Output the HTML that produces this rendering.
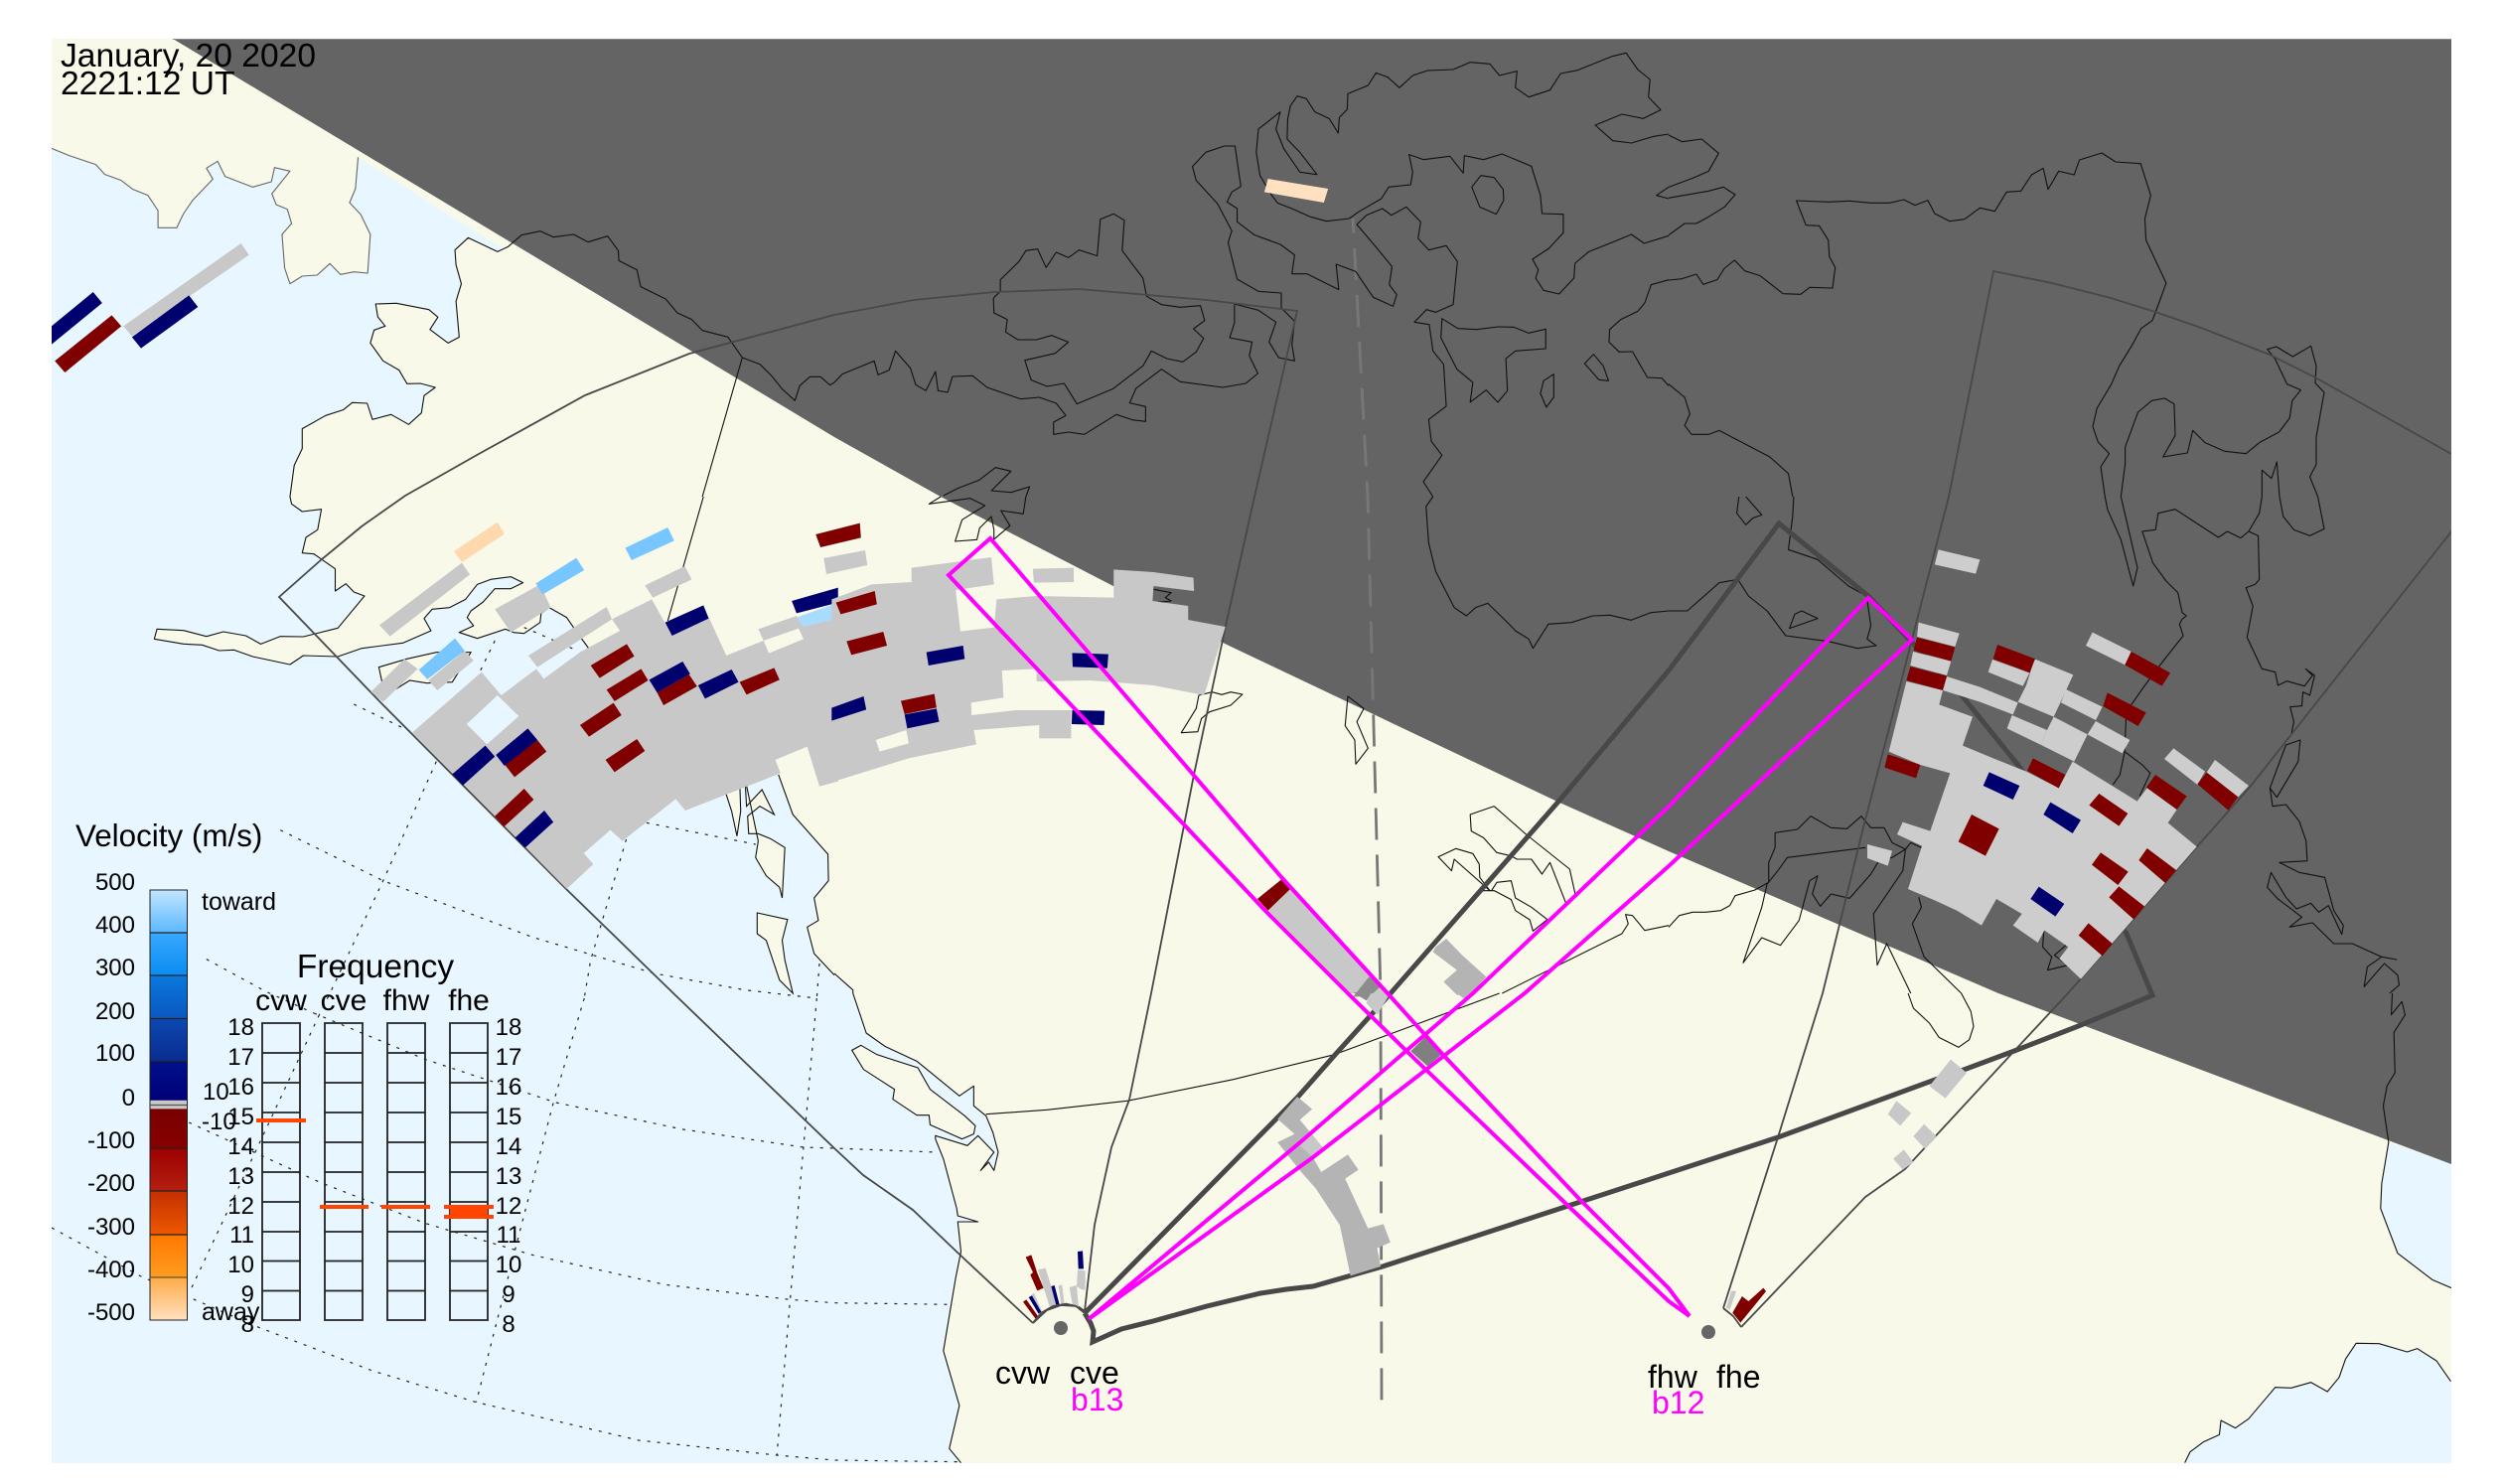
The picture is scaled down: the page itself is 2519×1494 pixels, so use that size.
<!DOCTYPE html>
<html><head><meta charset="utf-8"><style>
html,body{margin:0;padding:0;background:#fff}
svg{display:block}
polyline,polygon,line,rect,circle,path{vector-effect:non-scaling-stroke}
.c{fill:none;stroke:#111;stroke-width:1.1;stroke-linejoin:round}
.o{fill:#e8f6ff;stroke:none}
.l{fill:#f9f9ea;stroke:#111;stroke-width:1.1}
.g{fill:none;stroke:#222;stroke-width:1.2;stroke-dasharray:3 7}
.g1{fill:#c8c8c8}.g2{fill:#cdcdcd}.g3{fill:#b4b4b4}
.r{fill:#800000}.n{fill:#00006e}.b{fill:#77c6ff}.p{fill:#ffd9ae}
text{font-family:"Liberation Sans",sans-serif;fill:#000}
</style></head><body>
<svg width="2519" height="1494" viewBox="0 0 2519 1494" xmlns="http://www.w3.org/2000/svg">
<defs>
<clipPath id="pl"><rect x="52" y="39" width="2416" height="1434"/></clipPath>
<linearGradient id="cb" gradientUnits="userSpaceOnUse" x1="0" y1="896" x2="0" y2="1329">
<stop offset="0" stop-color="#c2e6ff"/><stop offset=".099" stop-color="#5cb8ff"/>
<stop offset=".10" stop-color="#38a8ff"/><stop offset=".199" stop-color="#0a8cf0"/>
<stop offset=".20" stop-color="#0a78dc"/><stop offset=".298" stop-color="#0a58c0"/>
<stop offset=".30" stop-color="#0c48b0"/><stop offset=".397" stop-color="#0a2c90"/>
<stop offset=".40" stop-color="#00108a"/><stop offset=".488" stop-color="#000078"/>
<stop offset=".49" stop-color="#c8c8c8"/><stop offset=".508" stop-color="#c8c8c8"/>
<stop offset=".51" stop-color="#780000"/><stop offset=".60" stop-color="#880000"/>
<stop offset=".602" stop-color="#9c0000"/><stop offset=".70" stop-color="#b42010"/>
<stop offset=".702" stop-color="#c43000"/><stop offset=".80" stop-color="#ec5800"/>
<stop offset=".802" stop-color="#ff7800"/><stop offset=".90" stop-color="#ff9c20"/>
<stop offset=".902" stop-color="#ffac48"/><stop offset="1" stop-color="#ffe0c0"/>
</linearGradient>
</defs>
<rect width="2519" height="1494" fill="#fff"/>
<g clip-path="url(#pl)">
<rect x="52" y="39" width="2416" height="1434" fill="#f9f9ea"/>

<!-- ocean -->
<g transform="translate(0,0) scale(.535714,.33333)">
<polygon class="o" points="90,444 97,448 130,470 180,497 197,527 227,544 250,572 278,590 297,636 297,688 332,688 345,645 362,605 400,541 388,508 409,487 423,533 475,565 510,549 516,506 545,517 511,585 519,618 540,632 548,675 530,708 535,810 545,857 568,834 596,831 620,796 640,829 665,821 691,825 696,708 678,648 657,612 668,570 673,475 945,752 935,760 880,718 855,755 857,800 867,857 857,910 863,1018 842,1036 808,995 823,958 806,935 745,916 706,918 710,957 724,985 703,997 696,1036 720,1090 750,1118 765,1159 790,1158 818,1170 797,1195 792,1247 768,1282 735,1252 700,1267 690,1218 662,1216 645,1238 612,1255 568,1295 568,1355 553,1405 545,1505 90,1505"/>
</g>
<g transform="translate(0,500) scale(.535714,.33333)">
<polygon class="o" points="545,-5 548,22 568,45 604,38 597,100 575,123 568,170 590,173 630,218 630,285 650,263 665,288 685,300 635,397 570,423 527,422 490,445 462,420 420,408 388,422 345,404 295,400 290,430 345,445 380,448 412,465 440,463 475,483 545,507 570,480 635,483 680,458 757,442 810,405 797,368 812,340 845,335 875,310 897,265 922,250 960,242 983,260 960,278 930,278 908,318 885,345 878,365 890,390 863,410 897,428 950,400 965,410 985,413 1015,380 1017,352 1032,335 1065,365 1080,400 1108,462 1280,700 1463,840 1490,960 1556,1080 1557,1160 1530,1212 1538,1280 1517,1300 1530,1380 1568,1445 1572,1505 90,1505 90,-5"/>
</g>
<g transform="translate(0,1000) scale(.535714,.33333)"><rect class="o" x="90" y="-5" width="1485" height="1430"/></g>
<g transform="translate(840,500) scale(.535714,.33333)"><polygon class="o" points="-5,1440 0,1440 35,1490 38,1505 -5,1505"/></g>
<g transform="translate(840,1000) scale(.535714,.33333)">
<polygon class="o" points="-5,-5 35,-5 60,120 95,160 155,205 235,310 262,280 262,340 285,370 298,420 308,480 300,535 290,510 275,535 300,480 270,430 250,460 190,430 190,440 205,500 230,650 232,672 270,690 232,690 238,780 228,860 205,1080 235,1245 216,1375 238,1425 -5,1425"/>
</g>
<g transform="translate(1680,1000) scale(.535714,.33333)">
<polygon class="o" points="1351,450 1340,575 1338,650 1370,785 1435,865 1475,892 1475,517"/>
<polygon class="o" points="970,1425 980,1385 1005,1355 1035,1333 1038,1290 1065,1313 1090,1285 1140,1190 1170,1192 1207,1175 1238,1203 1260,1160 1272,1105 1292,1057 1335,1058 1388,1083 1407,1073 1443,1110 1470,1172 1475,1425"/>
</g>

<!-- graticule -->
<g transform="translate(0,500) scale(.535714,.33333)">
<polyline class="g" points="665,627 775,712"/><polyline class="g" points="1215,985 1420,1050"/><polyline class="g" points="985,395 1085,465"/>
<polyline class="g" points="527,1007 720,1160 1000,1330 1230,1440 1400,1490 1535,1515"/>
<polyline class="g" points="388,1397 500,1495 590,1560"/>
<polyline class="g" points="930,435 900,535"/>
<polyline class="g" points="820,800 720,1160 620,1500 600,1565"/>
<polyline class="g" points="1177,1035 1110,1400 1098,1515"/>
<polyline class="g" points="1540,1410 1535,1515"/>
</g>
<g transform="translate(0,1000) scale(.535714,.33333)">
<polyline class="g" points="590,60 800,200 1045,330 1280,410 1510,465 1568,468 1760,480"/>
<polyline class="g" points="355,390 600,570 800,695 1000,790 1250,880 1485,925 1568,935 1793,940"/>
<polyline class="g" points="97,708 265,855 480,1005 700,1140 895,1235 1200,1350 1460,1395 1568,1410 1803,1415"/>
<polyline class="g" points="600,65 500,410 360,890"/>
<polyline class="g" points="1098,15 1040,330 980,700 895,1235"/>
<polyline class="g" points="1535,15 1510,465 1485,925 1460,1395"/>
</g>

<!-- islands -->
<g transform="translate(0,500) scale(.535714,.33333)">
<polygon class="l" points="712,515 765,490 820,470 885,470 850,560 802,563 770,555 745,580 718,560"/>
<polygon class="l" points="1360,875 1375,950 1385,1025 1392,950 1390,850"/>
<polygon class="l" points="1400,850 1403,935 1432,885 1455,960 1428,935 1405,965 1407,1018 1425,1018 1448,1033 1475,1060 1470,1212 1465,1180 1440,1145 1420,1090 1425,1040"/>
<polygon class="l" points="1423,1257 1480,1277 1470,1340 1475,1400 1490,1500 1465,1460 1440,1340 1423,1320"/>
</g>
<g transform="translate(840,1000) scale(.535714,.33333)">
<polygon class="l" points="50,157 33,172 55,230 113,290 110,320 155,368 178,368 180,397 240,440 262,425 265,400 245,370 180,290 157,225 80,185"/>
</g>

<!-- shadow -->
<polygon points="174,39 840,440 947,500 1231,647 1568,807 1680,857 2012,1000 2468,1172 2468,39" fill="#646464"/>
<line x1="174" y1="39.5" x2="2468" y2="39.5" stroke="#888" stroke-width="1"/>

<!-- dashed meridian -->
<polyline points="1362,220 1377,500 1390,1000 1391,1413" fill="none" stroke="#777" stroke-width="2.8" stroke-dasharray="32 15" stroke-dashoffset="17"/>

<!-- coast tile 1 -->
<g transform="translate(0,0) scale(.535714,.33333)">
<polyline class="c" style="stroke:#666" points="97,448 130,470 180,497 197,527 227,544 250,572 278,590 297,636 297,688 332,688 345,645 362,605 400,541 388,508 409,487 423,533 475,565 510,549 516,506 545,517 511,585 519,618 540,632 548,675 530,708 535,810 545,857 568,834 596,831 620,796 640,829 665,821 691,825 696,708 678,648 657,612 668,570 673,475"/>
<polyline class="c" points="1568,1155 1560,1163 1542,1138 1522,1138 1503,1165 1494,1210 1470,1175 1450,1135 1428,1100 1395,1080 1368,1018 1320,998 1300,965 1273,945 1251,903 1204,866 1197,815 1163,787 1162,757 1142,713 1105,731 1078,708 1040,716 1015,698 980,710 955,745 935,760 880,718 855,755 857,800 867,857 857,910 863,1018 842,1036 808,995 823,958 806,935 745,916 706,918 710,957 724,985 703,997 696,1036 720,1090 750,1118 765,1159 790,1158 818,1170 797,1195 792,1247 768,1282 735,1252 700,1267 690,1218 662,1216 645,1238 612,1255 568,1295 568,1355 553,1405 545,1500"/>
<polyline class="c" points="1395,1080 1320,1500"/>
</g>
<!-- coast tile 2 -->
<g transform="translate(840,0) scale(.535714,.33333)">
<polyline class="c" points="0,1155 15,1130 75,1090 82,1132 103,1118 115,1060 143,1112 153,1162 172,1180 190,1122 195,1180 213,1185 222,1137 260,1135 287,1170 350,1205 385,1200 417,1218 435,1255 412,1275 412,1312 440,1305 470,1312 530,1252 560,1268 585,1273 585,1228 555,1217 567,1173 615,1115 650,1153 730,1170 773,1158 796,1128 780,1075 785,1033 743,1020 752,975 752,918 797,937 830,973 817,1033 835,1080 865,1090 860,1040 865,970 840,930 840,885 797,880 757,843 740,733 747,697 720,615 680,545 673,503 698,460 733,441 753,441 764,563 747,580 738,610 757,630 757,670 790,710 838,738 865,770 860,827 888,827 948,875 943,798 980,820 1005,880 1013,898 1050,925 1057,890 1043,860 1048,805 1020,750 982,678 1000,650 1030,630 1047,650 1075,625 1102,670 1097,720 1117,755 1150,742 1171,790 1163,920 1130,943 1113,935 1090,973 1118,980 1125,1060 1145,1100 1150,1227 1117,1267 1122,1333 1142,1375 1107,1455 1125,1500"/>
<polyline class="c" points="299,900 300,945 325,965 322,1003 345,1026 380,1026 408,1013 440,1033 415,1067 358,1088 370,1148 400,1167 432,1158 456,1220 523,1175 580,1105 596,1060 625,1083 655,1093 680,1063 694,1022 675,993 696,968 688,923 650,928 615,920 587,895 580,840 541,757 545,665 525,646 500,662 494,773 460,755 440,778 417,762 398,808 382,752 360,757 347,790 312,845 312,880 299,900"/>
<polyline class="c" points="968,660 925,668 895,655 860,630 833,613 820,585 800,530 793,460 797,390 838,338 830,390 845,450 875,520 907,527 875,460 851,420 852,360 857,320 870,290 887,298 903,338 930,358 947,402 949,355 964,330 965,283 1003,258 1018,220 1040,233 1062,265 1087,228 1115,213 1163,210 1195,188 1232,193 1250,228 1283,215 1280,265 1305,293 1345,272 1365,222 1397,212 1462,170 1488,160 1510,210 1533,240 1530,293 1553,332 1520,358 1480,345 1430,378 1463,425 1498,432 1540,412 1568,405"/>
<polyline class="c" points="968,660 985,640 1028,600 1042,565 1083,558 1087,520 1080,467 1107,482 1157,472 1182,523 1184,470 1220,482 1255,465 1310,502 1327,590 1330,645 1370,647 1370,703 1343,750 1312,783 1323,815 1318,840 1333,877 1362,888 1390,840 1392,795 1418,760 1462,732 1498,708 1522,735 1568,712"/>
<polygon class="c" points="1198,565 1215,530 1240,536 1257,572 1258,605 1244,647 1213,625"/>
<polygon class="c" points="1427,1070 1445,1105 1455,1150 1437,1147 1410,1098"/>
<polygon class="c" points="1352,1130 1352,1200 1338,1230 1327,1188 1333,1150"/>
<polyline class="c" points="1568,565 1545,590 1568,600"/>
<polygon class="c" points="1142,962 1172,992 1207,995 1247,987 1277,988 1305,1006 1337,994 1337,1053 1280,1060 1262,1083 1265,1180 1247,1215 1225,1178 1195,1215 1200,1155 1170,1115 1140,1020"/>
<polyline class="c" points="1568,845 1535,860 1523,915 1510,940 1478,965 1457,995 1456,1033 1475,1063 1500,1062 1528,1140 1555,1142 1568,1165"/>
<polyline class="c" points="205,1497 232,1475 272,1450 303,1412 332,1423 295,1482 332,1487 367,1470 360,1500"/>
</g>
<!-- coast tile 3 -->
<g transform="translate(1680,0) scale(.535714,.33333)">
<polyline class="c" points="0,408 25,428 62,420 94,463 75,517 45,538 0,565"/>
<polyline class="c" points="0,598 75,577 103,565 125,588 105,625 75,655 52,675 30,675 0,710"/>
<polyline class="c" points="820,1500 812,1410 828,1370 807,1335 797,1288 805,1233 832,1160 847,1105 870,1045 888,992 909,968 918,930 935,855 897,725 895,660 906,590 887,494 840,489 814,462 772,483 762,528 733,517 713,572 704,508 682,528 662,577 635,580 613,638 585,628 556,662 528,668 500,645 487,605 463,620 442,603 415,613 380,613 340,607 300,610 240,606 258,680 283,682 300,725 302,775 313,808 308,870 265,868 248,889 215,887 172,833 143,818 124,786 105,810 91,845 65,859 52,828 25,842 0,846"/>
<polyline class="c" points="0,1160 30,1200 40,1250 30,1285 43,1312 75,1312 95,1300 190,1380 225,1430 233,1500"/>
<polyline class="c" points="850,1500 858,1400 858,1350 882,1245 908,1210 932,1203 950,1220 952,1315 929,1380 975,1368 985,1300 1008,1337 1045,1363 1085,1370 1110,1337 1147,1305 1167,1263 1172,1210 1188,1178 1162,1160 1140,1085 1125,1055 1142,1047 1173,1077 1207,1045 1217,1105 1215,1157 1232,1185 1217,1320 1217,1403 1205,1440 1220,1500"/>
<polyline class="c" points="1115,1500 1115,1420 1133,1445 1143,1395 1148,1500"/>
</g>
<!-- coast tile 4 -->
<g transform="translate(0,500) scale(.535714,.33333)">
<polyline class="c" points="545,0 548,22 568,45 604,38 597,100 575,123 568,170 590,173 630,218 630,285 650,263 665,288 685,300 635,397 570,423 527,422 490,445 462,420 420,408 388,422 345,404 295,400 290,430 345,445 380,448 412,465 440,463 475,483 545,507 570,480 635,483 680,458 757,442 810,405 797,368 812,340 845,335 875,310 897,265 922,250 960,242 983,260 960,278 930,278 908,318 885,345 878,365 890,390 863,410 897,428 950,400 965,410 985,413 1015,380 1017,352 1032,335 1065,365 1080,400 1108,462"/>
<polyline class="c" points="1322,0 1255,375"/>
<polyline class="c" points="1463,840 1490,960 1556,1080 1557,1160 1530,1212 1538,1280 1517,1300 1530,1380 1568,1445"/>
</g>
<!-- coast tile 5 -->
<g transform="translate(840,500) scale(.535714,.33333)">
<polyline class="c" points="0,1440 35,1490 35,1500"/>
<polyline class="c" points="1125,0 1112,30 1117,140 1130,225 1165,335 1188,360 1205,335 1228,322 1265,380 1280,405 1305,430 1313,458 1342,385 1385,380 1425,360 1458,358 1497,373 1535,350 1568,345"/>
<polyline class="c" points="200,0 178,22 255,5 283,27 240,70 227,135 268,130 273,95 295,60 300,100 300,130"/>
<polyline class="c" points="360,0 355,52 313,42 330,88 297,133"/>
<polyline class="c" points="600,280 633,290 622,305 633,315 600,320"/>
<polygon class="c" points="710,590 728,598 745,590 767,597 745,630 705,650 690,670 683,710 652,713 680,640 685,600"/>
<polygon class="c" points="965,603 995,640 982,680 1003,760 980,808 978,735 960,692"/>
<polyline class="c" points="1240,935 1300,1020 1382,1125 1393,1205"/>
<polyline class="c" points="1240,935 1195,960 1197,1010 1220,1030 1245,1075 1272,1085 1283,1095 1310,1095 1330,1140 1345,1105 1375,1228"/>
<polygon class="c" points="1135,1088 1168,1063 1200,1078 1212,1110 1213,1150 1232,1190 1165,1095 1160,1130"/>
<polyline class="c" points="1210,1190 1240,1190 1272,1217 1280,1250 1307,1278 1313,1312 1340,1277 1310,1240 1280,1212 1272,1160 1245,1165 1235,1190"/>
<polyline class="c" points="1255,1500 1480,1320 1492,1290 1487,1262 1500,1265 1523,1310 1568,1295"/>
</g>
<!-- coast tile 6 -->
<g transform="translate(1680,500) scale(.535714,.33333)">
<polyline class="c" points="820,0 825,40 850,130 873,270 881,215 850,0"/>
<polyline class="c" points="1115,0 1110,50 1090,105 1108,118 1110,250 1102,265 1085,275 1098,330 1087,425 1115,520 1140,530 1145,570 1162,557 1195,572 1210,540 1197,520 1214,540 1205,600 1192,590 1190,632 1168,635 1175,680 1170,720"/>
<polyline class="c" points="1148,0 1155,60 1175,100 1205,118 1232,97 1220,0"/>
<polyline class="c" points="1090,105 1075,125 1050,105 1033,123 952,38 920,50 915,100 890,105 910,200 935,255 957,290 965,350 973,360 965,370 960,385 967,420 930,495 895,570 860,650 857,770 890,810 905,835 885,905"/>
<polyline class="c" points="857,770 848,840 835,870"/>
<polygon class="c" points="1187,735 1160,750 1130,880 1143,908 1183,800"/>
<polyline class="c" points="1130,880 1135,935 1160,930 1185,980 1198,1040 1200,1100 1148,1105 1185,1135 1233,1150 1250,1250 1268,1295 1265,1322 1240,1235 1222,1255 1207,1228 1180,1245 1160,1210 1132,1135 1125,1180 1145,1215 1190,1270 1167,1300 1210,1287 1250,1350 1285,1350 1340,1390 1368,1398 1340,1390 1313,1420 1307,1480 1345,1410 1370,1445 1373,1475 1355,1500"/>
<polyline class="c" points="132,0 128,50 145,85 158,65 175,55 145,0"/>
<polyline class="c" points="235,0 233,60 225,160 280,190 338,270 372,300 380,390 373,430 390,450 355,458 300,437 220,420 185,345 150,300 130,250 95,260 35,345 0,345"/>
<polygon class="c" points="250,345 280,368 227,398 237,355"/>
<polyline class="c" points="267,965 305,1000 335,1003 362,965 380,1000 405,1000 420,1045 445,1065 420,1090"/>
<polyline class="c" points="200,1015 242,1005 267,965"/>
<polyline class="c" points="200,1015 200,1060 188,1105 188,1165 162,1188 125,1205 115,1235 98,1250 70,1255 45,1255 20,1265 0,1300"/>
<polyline class="c" points="370,1060 223,1090 205,1130 185,1170 175,1240 140,1408 175,1332 210,1355 245,1280 265,1160 280,1145 270,1200 285,1237 305,1200 340,1213 380,1140 395,1100 420,1090"/>
<polyline class="c" points="475,1060 455,1045 445,1065 440,1130 385,1260 392,1415 410,1350 455,1500"/>
<polyline class="c" points="470,1210 475,1240 458,1290 480,1390 550,1500"/>
<polyline class="c" points="705,1310 703,1360 720,1390 712,1430 750,1415 725,1385 750,1350"/>
</g>
<!-- coast tile 8 -->
<g transform="translate(840,1000) scale(.535714,.33333)">
<polyline class="c" points="35,0 60,120 95,160 155,205 235,310 262,280 262,340 285,370 298,420 308,480 300,535 290,510 275,535 300,480 270,430 250,460 190,430 190,440 205,500 230,650 232,672 270,690 232,690 238,780 228,860 205,1080 235,1245 216,1375 238,1418"/>
<polyline class="c" points="285,365 400,352 550,325 750,260 940,185 1100,90 1250,0"/>
</g>
<!-- coast tile 9 -->
<g transform="translate(1680,1000) scale(.535714,.33333)">
<polyline class="c" points="450,0 460,45 490,90 508,133 545,163 565,140 573,100 568,55 550,0"/>
<polyline class="c" points="1360,0 1358,65 1378,25 1384,65 1363,118 1365,240 1350,280 1343,340 1353,450 1340,575 1338,650 1370,785 1435,865 1471,890"/>
<polyline class="c" points="970,1418 980,1385 1005,1355 1035,1333 1038,1290 1065,1313 1090,1285 1140,1190 1170,1192 1207,1175 1238,1203 1260,1160 1272,1105 1292,1057 1335,1058 1388,1083 1407,1073 1443,1110 1470,1172"/>
</g>

<!-- FOVs thin -->
<g fill="none" stroke="#484848" stroke-width="1.8" stroke-linejoin="miter">
<polyline points="1040,1332 963,1260 919,1218 869,1183 840,1156 678,1000 570,895 383,707 281,601 324,563 364,530 408,499 482,457 589,398 694,356 840,317 920,302 1001,294 1086,291 1215,302 1306,313 1263,500 1234,630 1202,780 1159,1000 1137,1107 1119,1155 1102,1233 1092,1320"/>
<polyline points="1735,1317 1790,1145 1835,1000 1876,833 1902,733 1962,500 2007,273 2066,285 2125,300 2170,314 2216,330 2285,357 2331,380 2468,457"/>
<polyline points="2480,520 2267,790 2082,1000 2028,1058 1918,1177 1878,1205 1753,1336"/>
<polyline points="1735,1317 1745,1325 1753,1336"/>
<polyline points="1040,1332 1054,1319 1068,1314 1085,1315 1092,1320"/>
</g>
<!-- cve thick -->
<polyline points="1092,1322 1306,1105 1344,1062 1400,1000 1569,807 1680,675 1750,582 1791,527 1881,600 1975,700 2034,773 2141,940 2167,1002 2095,1032 2028,1058 1977,1077 1948,1087 1790,1145 1680,1181 1392,1275 1322,1295 1295,1298 1269,1302 1215,1315 1161,1330 1129,1338 1100,1351 1101,1340 1098,1332 1092,1322" fill="none" stroke="#484848" stroke-width="5" stroke-linejoin="miter"/>

<!-- cells: tile 1 -->
<g transform="translate(0,0) scale(.535714,.33333)">
<polygon class="g1" points="232,985 453,735 468,770 248,1015"/>
<polygon class="n" points="248,1018 355,892 372,927 265,1052"/>
<polygon class="n" points="97,985 175,882 192,915 97,1040"/>
<polygon class="r" points="103,1090 210,952 228,985 122,1125"/>
</g>
<!-- peach tile 2 -->
<g transform="translate(840,0) scale(.535714,.33333)">
<polygon points="815,540 928,570 920,612 808,580" fill="#ffe0c0"/>
</g>
<!-- cells: tile 4 -->
<g transform="translate(0,500) scale(.535714,.33333)">
<polygon class="g1" points="775,712 905,530 942,600 1008,520 1022,550 1090,470 1165,405 1150,370 1225,310 1263,420 1333,368 1365,480 1435,435 1445,473 1510,430 1500,395 1575,355 1575,860 1540,875 1517,755 1457,795 1467,835 1288,948 1270,913 1170,1040 1147,1007 1097,1077 1115,1110 1065,1185"/>
<polygon points="877,687 935,600 975,663 915,748" fill="#e8f6ff"/>
<polygon class="g1" points="993,480 1140,333 1150,370 1010,515"/>
<polygon class="g1" points="1425,400 1497,360 1510,393 1435,435"/>
<polygon class="g1" points="930,340 1015,265 1035,335 960,410"/>
<polygon class="g1" points="1212,268 1287,210 1300,250 1227,305"/>
<polygon class="g1" points="713,388 868,200 883,235 733,422"/>
<polygon class="p" points="853,165 935,77 948,113 868,198"/>
<polygon class="b" points="1007,262 1083,185 1098,222 1020,295"/>
<polygon class="b" points="1175,155 1255,93 1267,133 1187,192"/>
<polygon class="g1" points="805,555 873,465 890,495 822,585"/>
<polygon class="b" points="787,523 855,428 873,465 803,552"/>
<polygon class="g1" points="697,590 760,490 785,520 720,620"/>
<polygon class="r" points="1110,510 1178,445 1192,482 1127,548"/>
<polygon class="r" points="1140,583 1205,520 1218,555 1155,618"/>
<polygon class="r" points="1090,690 1153,623 1168,660 1107,725"/>
<polygon class="r" points="1138,795 1197,732 1212,768 1155,832"/>
<polygon class="r" points="1235,592 1295,537 1310,573 1247,630"/>
<polygon class="r" points="1390,560 1455,517 1465,553 1403,598"/>
<polygon class="r" points="948,808 1010,735 1027,770 967,847"/>
<polygon class="r" points="930,965 985,882 1003,915 947,997"/>
<polygon class="n" points="1220,553 1283,498 1297,535 1235,592"/>
<polygon class="n" points="1312,570 1375,522 1388,560 1325,610"/>
<polygon class="n" points="932,780 992,700 1010,735 948,813"/>
<polygon class="n" points="850,838 912,752 930,785 870,872"/>
<polygon class="n" points="968,1030 1023,948 1040,983 987,1060"/>
<polygon class="n" points="1250,380 1322,328 1332,368 1263,420"/>
<polygon class="n" points="1488,315 1575,275 1575,320 1497,352"/>
<polygon points="1497,365 1575,320 1575,368 1510,393" fill="#a8dcff"/>
</g>
<!-- cells: tile 5 -->
<g transform="translate(840,500) scale(.535714,.33333)">
<polygon class="g1" points="-5,310 70,265 145,258 145,215 295,183 300,265 228,282 237,407 300,395 305,310 380,300 525,305 525,220 600,228 675,245 676,285 600,270 598,315 665,330 665,372 735,393 695,600 600,570 480,555 380,558 380,520 315,525 318,607 257,622 258,660 340,645 445,645 445,730 385,730 385,690 262,705 267,748 140,790 0,860 -5,865"/>
<polygon points="78,735 135,705 140,745 85,770" fill="#f9f9ea"/>
<polygon class="g1" points="-20,186 58,162 62,207 -15,234"/>
<polygon class="g1" points="373,218 450,215 450,258 375,260"/>
<polygon class="r" points="-35,114 48,80 50,124 -26,153"/>
<polygon class="r" points="3,320 76,285 80,325 12,355"/>
<polygon class="r" points="23,437 92,408 99,450 32,478"/>
<polygon class="r" points="125,617 188,596 192,637 132,657"/>
<polygon class="n" points="-5,638 55,603 60,643 -5,677"/>
<polygon class="n" points="173,470 242,450 245,490 177,510"/>
<polygon class="n" points="447,472 515,476 513,518 448,514"/>
<polygon class="n" points="132,658 192,640 197,680 137,700"/>
<polygon class="n" points="447,645 508,647 507,690 446,687"/>
<!-- beam cells -->
<polygon class="g1" points="860,1180 815,1250 970,1500 1040,1500"/>
<polygon points="1005,1450 1030,1475 1005,1510 975,1510" fill="#8c8c8c"/>
<polygon class="r" points="845,1150 860,1180 815,1250 795,1215"/>
<polygon class="g3" points="1130,1360 1150,1335 1180,1385 1225,1450 1195,1505 1170,1505 1145,1465 1170,1430 1125,1375"/>
</g>
<!-- cells: tile 8 -->
<g transform="translate(840,1000) scale(.535714,.33333)">
<polygon class="g1" points="1005,0 1045,0 1020,65 1000,30"/>
<polygon points="975,-3 1010,-3 1000,22" fill="#8c8c8c"/>
<polygon class="g3" points="1170,0 1198,0 1185,18"/>
<polygon points="1115,125 1145,180 1115,220 1083,175" fill="#808080"/>
<polygon class="g3" points="870,312 898,350 875,382 920,470 900,497 915,540 965,487 985,533 960,560 1003,710 1032,697 1045,752 1020,770 1027,825 970,853 950,700 905,590 875,535 833,450 865,425 833,380"/>
<polygon class="g1" points="875,460 897,427 920,470 900,497"/>
</g>
<!-- near radar cvw/cve -->
<g transform="translate(980,1200) scale(.33333)">
<polygon class="g1" points="195,235 218,230 252,340 230,345"/>
<polygon class="g1" points="172,315 183,305 207,360 195,368"/>
<polygon class="g1" points="257,283 268,280 275,340 265,340"/>
<polygon class="g1" points="290,288 312,282 318,350 300,345"/>
<polygon class="g1" points="315,235 338,238 338,295 328,295 312,285"/>
<polygon class="r" points="158,197 175,190 193,245 212,290 193,298 172,250 180,243"/>
<polygon class="r" points="150,332 160,325 195,375 187,382"/>
<polygon class="n" points="167,318 177,313 205,362 197,368"/>
<polygon class="n" points="235,285 245,282 260,340 250,342"/>
<polygon class="n" points="315,180 330,178 333,232 317,232"/>
<polyline points="180,395 205,365 240,345 280,338 310,345 335,365" fill="none" stroke="#484848" stroke-width="1.8"/>
</g>
<!-- tile 9 cells -->
<g transform="translate(1680,1000) scale(.535714,.33333)">
<polygon class="g1" points="530,200 560,240 520,317 490,280"/>
<polygon class="g1" points="428,325 456,362 435,400 412,365"/>
<polygon class="g1" points="480,395 503,432 482,470 460,432"/>
<polygon class="g1" points="442,472 460,510 440,533 422,500"/>
<polygon class="g1" points="108,950 118,898 127,900 115,955"/>
<polygon class="r" points="120,965 138,915 150,930 178,890 183,900 135,995"/>
</g>
<!-- tile 6 top cell -->
<g transform="translate(1680,500) scale(.535714,.33333)">
<polygon class="g2" points="507,160 585,190 577,233 500,205"/>
</g>
<!-- fhw/fhe cells -->
<g transform="translate(1880,600) scale(.33333)">
<polygon class="g2" points="118,258 228,285 217,328 318,365 288,452 380,490 480,530 578,580 620,500 710,555 815,620 845,580 935,645 908,685 995,757 645,1157 580,1095 607,1060 535,1010 515,1047 440,995 467,960 390,915 345,995 270,950 205,920 123,885 165,755 90,720 107,683 190,710 250,535 160,510 65,470"/>
<polygon class="g2" points="155,80 278,113 265,153 150,123"/>
<polygon class="g2" points="138,168 253,197 240,240 130,210"/>
<polygon class="g2" points="240,243 340,275 455,322 440,358 340,320 228,285"/>
<polygon class="g2" points="378,192 490,232 470,272 365,230"/>
<polygon class="g2" points="505,190 622,238 563,365 455,320 480,270"/>
<polygon class="g2" points="600,282 710,335 690,375 585,322"/>
<polygon class="g2" points="563,365 665,418 625,500 525,450 543,405"/>
<polygon class="g2" points="437,360 543,405 525,450 422,400"/>
<polygon class="g2" points="690,378 793,435 770,475 665,418"/>
<polygon class="g2" points="680,110 797,168 778,208 660,150"/>
<polygon class="g2" points="925,460 1020,530 997,570 897,492"/>
<polygon class="g2" points="1050,495 1152,573 1120,607 1025,533"/>
<polygon class="g2" points="0,750 75,770 62,815 0,792"/>
<polygon class="r" points="150,125 265,155 253,197 140,165"/>
<polygon class="r" points="130,213 240,242 228,285 118,255"/>
<polygon class="r" points="62,478 160,510 147,550 52,518"/>
<polygon class="r" points="393,147 507,190 490,232 380,190"/>
<polygon class="r" points="797,168 915,232 890,272 778,208"/>
<polygon class="r" points="725,292 842,352 818,393 712,333"/>
<polygon class="r" points="500,490 598,540 578,580 483,528"/>
<polygon class="r" points="870,540 965,605 935,645 843,578"/>
<polygon class="r" points="1025,533 1120,607 1090,647 997,568"/>
<polygon class="r" points="315,660 398,703 357,785 275,742"/>
<polygon class="r" points="700,597 787,657 760,695 670,632"/>
<polygon class="r" points="705,775 788,833 757,873 678,812"/>
<polygon class="r" points="845,762 933,828 900,867 820,798"/>
<polygon class="r" points="760,877 837,937 805,977 730,910"/>
<polygon class="r" points="668,988 740,1050 710,1087 638,1025"/>
<polygon class="n" points="368,532 460,573 440,615 350,573"/>
<polygon class="n" points="553,623 645,677 620,717 532,660"/>
<polygon class="n" points="518,878 595,930 568,968 493,915"/>
</g>

<!-- magenta beams -->
<g fill="none" stroke="#ff00ff" stroke-width="4" stroke-linejoin="miter">
<polyline points="1096,1328 1309,1150 1483,1000 1680,812 1881,602 1925,644 1680,872 1535,1000 1322,1165 1096,1328"/>
<polyline points="1701,1325 1680,1297 1590,1207 1453,1062 1397,1000 1290,883 997,542 955,579 1274,917 1357,1000 1418,1060 1582,1217 1680,1310 1701,1325"/>
</g>
<!-- origins -->
<circle cx="1068" cy="1337" r="7" fill="#666"/>
<circle cx="1720" cy="1341" r="7" fill="#666"/>

<!-- colorbar -->
<rect x="151" y="896" width="37.5" height="433" fill="url(#cb)" stroke="#222" stroke-width="1"/>
<g stroke="#222" stroke-width="1.2">
<line x1="151" x2="188" y1="939" y2="939"/><line x1="151" x2="188" y1="982" y2="982"/><line x1="151" x2="188" y1="1025.5" y2="1025.5"/><line x1="151" x2="188" y1="1068.5" y2="1068.5"/><line x1="151" x2="188" y1="1112.5" y2="1112.5" stroke="#555"/><line x1="151" x2="188" y1="1156" y2="1156"/><line x1="151" x2="188" y1="1199" y2="1199"/><line x1="151" x2="188" y1="1243" y2="1243"/><line x1="151" x2="188" y1="1286" y2="1286" stroke="#665533"/>
</g>
<!-- freq columns -->
<g fill="none" stroke="#222" stroke-width="1.8">
<rect x="264" y="1030" width="38" height="299"/><rect x="327" y="1030" width="38" height="299"/><rect x="390" y="1030" width="38" height="299"/><rect x="453" y="1030" width="38" height="299"/>
<path d="M264 1060H302M264 1090H302M264 1120H302M264 1150H302M264 1180H302M264 1210H302M264 1240H302M264 1269.5H302M264 1299.5H302"/>
<path d="M327 1060H365M327 1090H365M327 1120H365M327 1150H365M327 1180H365M327 1210H365M327 1240H365M327 1269.5H365M327 1299.5H365"/>
<path d="M390 1060H428M390 1090H428M390 1120H428M390 1150H428M390 1180H428M390 1210H428M390 1240H428M390 1269.5H428M390 1299.5H428"/>
<path d="M453 1060H491M453 1090H491M453 1120H491M453 1150H491M453 1180H491M453 1210H491M453 1240H491M453 1269.5H491M453 1299.5H491"/>
</g>
<g fill="#ff4500">
<rect x="258" y="1126" width="50" height="4"/>
<rect x="322" y="1213" width="49" height="4"/>
<rect x="384" y="1213" width="49" height="4"/>
<rect x="447" y="1213" width="50" height="4"/>
<rect x="447" y="1223" width="50" height="4"/>
<rect x="453" y="1214" width="38" height="12"/>
</g>
</g>

<!-- text -->
<text x="61" y="67" font-size="33.6">January, 20 2020</text>
<text x="61" y="95" font-size="33.6">2221:12 UT</text>
<text x="76" y="852" font-size="31.4">Velocity (m/s)</text>
<g font-size="24" text-anchor="end">
<text x="136" y="896">500</text><text x="136" y="939">400</text><text x="136" y="982">300</text><text x="136" y="1026">200</text><text x="136" y="1068">100</text><text x="136" y="1113">0</text><text x="136" y="1156">-100</text><text x="136" y="1199">-200</text><text x="136" y="1243">-300</text><text x="136" y="1286">-400</text><text x="136" y="1329">-500</text>
</g>
<text x="203" y="916" font-size="25">toward</text>
<text x="203" y="1329" font-size="25">away</text>
<text x="204" y="1107" font-size="24">10</text>
<text x="203" y="1137" font-size="24">-10</text>
<text x="378" y="984" font-size="33.5" text-anchor="middle">Frequency</text>
<g font-size="30" text-anchor="middle">
<text x="283" y="1017">cvw</text><text x="346" y="1017">cve</text><text x="409" y="1017">fhw</text><text x="472" y="1017">fhe</text>
</g>
<g font-size="24" text-anchor="end">
<text x="256" y="1042">18</text><text x="256" y="1072">17</text><text x="256" y="1102">16</text><text x="256" y="1132">15</text><text x="256" y="1162">14</text><text x="256" y="1192">13</text><text x="256" y="1222">12</text><text x="256" y="1251">11</text><text x="256" y="1281">10</text><text x="256" y="1311">9</text><text x="256" y="1341">8</text>
</g>
<g font-size="24" text-anchor="middle">
<text x="512" y="1042">18</text><text x="512" y="1072">17</text><text x="512" y="1102">16</text><text x="512" y="1132">15</text><text x="512" y="1162">14</text><text x="512" y="1192">13</text><text x="512" y="1222">12</text><text x="512" y="1251">11</text><text x="512" y="1281">10</text><text x="512" y="1311">9</text><text x="512" y="1341">8</text>
</g>
<text x="1002" y="1393" font-size="32">cvw</text>
<text x="1077" y="1393" font-size="32">cve</text>
<text x="1078" y="1420" font-size="32" style="fill:#ff00ff">b13</text>
<text x="1659" y="1397" font-size="32">fhw</text>
<text x="1728" y="1397" font-size="32">fhe</text>
<text x="1663" y="1423" font-size="32" style="fill:#ff00ff">b12</text>
</svg>
</body></html>
